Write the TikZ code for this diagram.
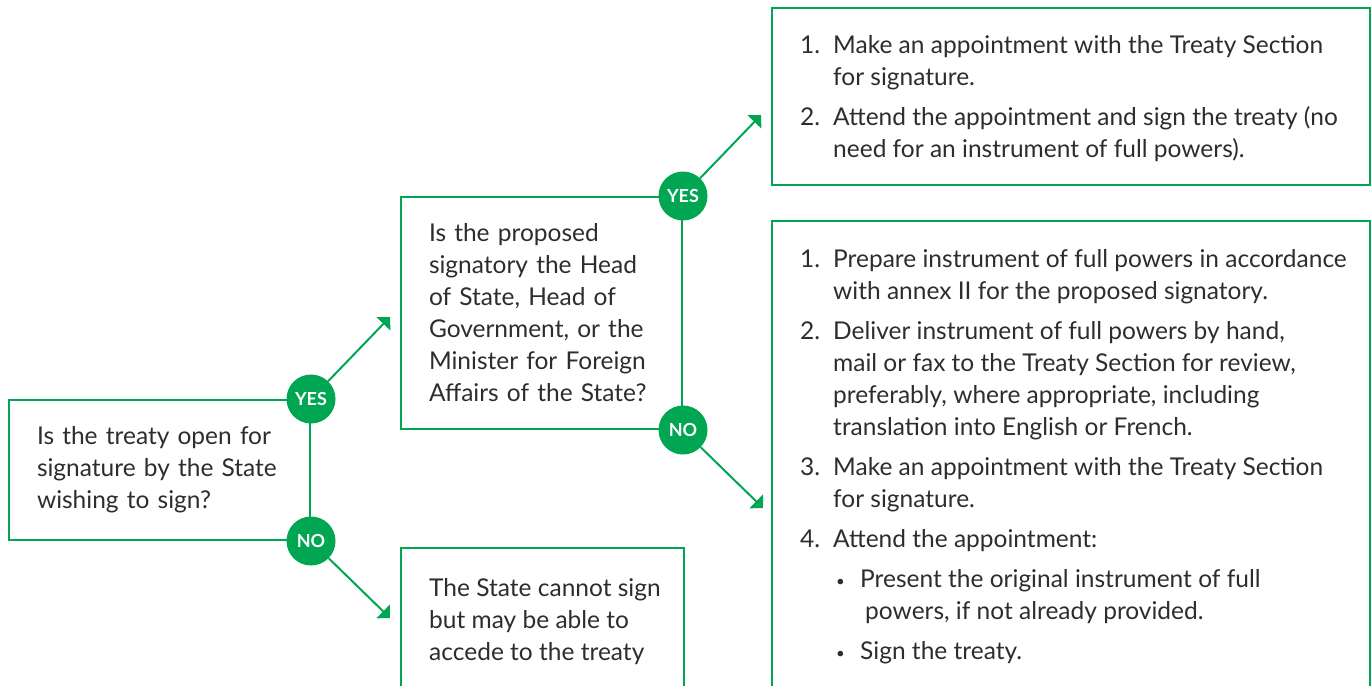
\documentclass[tikz,border=0pt]{standalone}
\usepackage{fontspec}
\setmainfont{Lato}
\usetikzlibrary{arrows.meta}

\definecolor{ungreen}{RGB}{0,166,81}
\definecolor{untext}{RGB}{45,45,45}

\newcommand{\stepnum}[1]{\makebox[33pt][l]{#1}}      % number of a step
\newcommand{\hangin}{\hspace*{33pt}}                  % indent of a wrapped step
\newcommand{\subdot}{\hspace*{36pt}\makebox[24pt][l]{\raisebox{1pt}{\fontsize{15}{15}\selectfont\textbullet}}}

\tikzset{
  frame/.style={draw=ungreen, line width=2pt},
  body/.style={font=\fontsize{24.5}{32}\selectfont, text=untext},
  qbox/.style={frame, body, align=left, inner xsep=28pt, inner ysep=0pt},
  steps/.style={body, anchor=north west, inner sep=0pt, align=left},
  answer/.style={circle, fill=ungreen, text=white, minimum size=49pt,
    inner sep=0pt, font=\fontsize{18}{18}\selectfont\bfseries},
  arr/.style={ungreen, line width=2pt, -{Triangle[width=19pt,length=9.5pt]}}
}

\begin{document}
\begin{tikzpicture}[x=1pt,y=-1pt]
\useasboundingbox (0,0) rectangle (1372,685);

    % questions
    \node [qbox, text width=245pt, minimum height=140pt] (open) at (159.5,470)
        {Is the treaty open for\\ signature by the State\\ wishing to sign?};
    \node [qbox, text width=225pt, minimum height=232pt] (head) at (541.5,313)
        {Is the proposed\\ signatory the Head\\ of State, Head of\\ Government, or the\\
         Minister for Foreign\\ Affairs of the State?};

    % answer boxes
    \draw [frame] (772,8) rectangle (1370,185);             % box, no full powers
    \node [steps] (appoint) at (800,35)
        {\stepnum{1.}Make an appointment with the Treaty Section\\ \hangin for signature.\\[8pt]
         \stepnum{2.}Attend the appointment and sign the treaty (no\\ \hangin need for an instrument of full powers).};

    \draw [frame] (772,690) |- (1370,221) -- (1370,690);     % open box, full powers
    \node [steps] (powers) at (800,249)
        {\stepnum{1.}Prepare instrument of full powers in accordance\\ \hangin with annex II for the proposed signatory.\\[8pt]
         \stepnum{2.}Deliver instrument of full powers by hand,\\ \hangin mail or fax to the Treaty Section for review,\\
         \hangin preferably, where appropriate, including\\ \hangin translation into English or French.\\[8pt]
         \stepnum{3.}Make an appointment with the Treaty Section\\ \hangin for signature.\\[8pt]
         \stepnum{4.}Attend the appointment:\\[8pt]
         \subdot Present the original instrument of full\\ \hspace*{65pt}powers, if not already provided.\\[8pt]
         \subdot Sign the treaty.};

    \draw [frame] (401,690) |- (684,548) -- (684,690);       % open box, cannot sign
    \node [steps] (cannot) at (429,578)
        {The State cannot sign\\ but may be able to\\ accede to the treaty};

    % yes / no marks
    \node [answer] (yes1) at (open.north east) {YES};
    \node [answer] (no1) at (open.south east) {NO};
    \node [answer] (yes2) at (head.north east) {YES};
    \node [answer] (no2) at (head.south east) {NO};

    % arrow tips
    \coordinate (tip1) at (390,317);
    \coordinate (tip2) at (390,618);
    \coordinate (tip3) at (761,115);
    \coordinate (tip4) at (763,508);

    \draw [arr] (yes1) -- (tip1);
    \draw [arr] (no1) -- (tip2);
    \draw [arr] (yes2) -- (tip3);
    \draw [arr] (no2) -- (tip4);

\end{tikzpicture}
\end{document}
